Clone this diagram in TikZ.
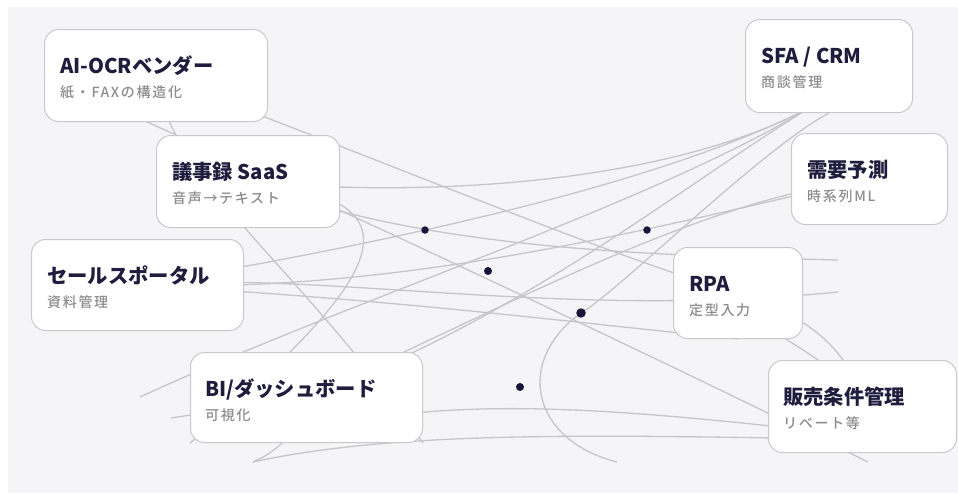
\documentclass[tikz,border=0pt]{standalone}
\usepackage{fontspec}
\newfontfamily\jpt{Noto Sans CJK JP Black}
\newfontfamily\jpsub{Noto Sans CJK JP Medium}[LetterSpace=12]
\usetikzlibrary{calc}
\pgfdeclarelayer{back}
\pgfdeclarelayer{bg}
\pgfsetlayers{back,bg,main}
\definecolor{paper}{HTML}{F5F5F7}
\definecolor{boxline}{HTML}{C9C9CC}
\definecolor{linec}{HTML}{C6C6C8}
\definecolor{titlec}{HTML}{1F1D3D}
\definecolor{subc}{HTML}{8C8C8C}
\definecolor{dotc}{HTML}{16163A}
\tikzset{
  box/.style={draw=boxline, fill=white, line width=1pt, rounded corners=14pt,
    anchor=north west, inner sep=0pt},
  ttl/.style={anchor=base west, inner sep=0pt, text=titlec, font=\jpt\fontsize{20.3}{24}\selectfont},
  sub/.style={anchor=base west, inner sep=0pt, text=subc, font=\jpsub\fontsize{14}{16}\selectfont},
  conn/.style={draw=linec, line width=1.3pt},
  dot/.style={circle, fill=dotc, inner sep=0pt, minimum size=#1},
  dot/.default=8pt
}
\begin{document}
\begin{tikzpicture}[x=1pt,y=-1pt]
\useasboundingbox (0,0) rectangle (958,493);
\begin{pgfonlayer}{back}
\fill[white] (0,0) rectangle (958,493);
\fill[paper] (8,7) rectangle (958,493);
\end{pgfonlayer}

% boxes
\node[box, minimum width=223pt, minimum height=92pt] (ai) at (44,29) {};
\node[ttl] (ait) at (60,73.5) {AI-OCRベンダー};
\node[sub] (ais) at (60,97) {紙・FAXの構造化};

\node[box, minimum width=183pt, minimum height=92pt] (gj) at (156,135) {};
\node[ttl] (gjt) at (172,179.5) {議事録 SaaS};
\node[sub] (gjs) at (172,203) {音声→テキスト};

\node[box, minimum width=212pt, minimum height=91pt] (sp) at (31,239) {};
\node[ttl] (spt) at (47,283.5) {セールスポータル};
\node[sub] (sps) at (47,307) {資料管理};

\node[box, minimum width=232pt, minimum height=90pt] (bi) at (190,352) {};
\node[ttl] (bit) at (205,396.5) {BI/ダッシュボード};
\node[sub] (bis) at (205,420) {可視化};

\node[box, minimum width=167pt, minimum height=93pt] (sfa) at (745,19) {};
\node[ttl] (sfat) at (761,63.5) {SFA / CRM};
\node[sub] (sfas) at (761,87) {商談管理};

\node[box, minimum width=156pt, minimum height=91pt] (jy) at (791,133) {};
\node[ttl] (jyt) at (807,177.5) {需要予測};
\node[sub] (jys) at (807,201) {時系列ML};

\node[box, minimum width=129pt, minimum height=91pt] (rpa) at (673,247) {};
\node[ttl] (rpat) at (689,291.5) {RPA};
\node[sub] (rpas) at (689,315) {定型入力};

\node[box, minimum width=188pt, minimum height=92pt] (hb) at (768,360) {};
\node[ttl] (hbt) at (783,404.5) {販売条件管理};
\node[sub] (hbs) at (783,428) {リベート等};

% dots
\node[dot=7.5pt] (d1) at (425,230) {};
\node[dot=7.5pt] (d2) at (647,230) {};
\node[dot=8pt] (d3) at (488,271) {};
\node[dot=9.5pt] (d4) at (581,313) {};
\node[dot=8pt] (d5) at (520,387) {};

% free ends and hidden anchor inside SFA
\coordinate (f1) at (140,397);
\coordinate (f2) at (253,462);
\coordinate (f3) at (171,418);
\coordinate (f4) at (617,462);
\coordinate (f5) at (838,260);
\coordinate (f6) at (838,292);
\coordinate (f9) at (868,462);
\coordinate (sfain) at ($(sfa.south)+(-18,-6)$);

\begin{pgfonlayer}{bg}
\draw[conn] (ai.center) .. controls (420,175) and (620,260) .. (rpa.center);
\draw[conn] (gj.center) .. controls (450,200) and (680,178) .. (sfain);
\draw[conn] (sp.center) .. controls (350,250) and (650,190) .. (sfain);
\draw[conn] (f1) .. controls (350,300) and (650,205) .. (sfain);
\draw[conn] (bi.center) .. controls (520,320) and (690,180) .. (sfain);
\draw[conn] (f4) .. controls (530,440) and (515,360) .. (d4.center) .. controls (620,290) and (760,150) .. (sfa.south);
\draw[conn] (jy.center) .. controls (700,215) and (420,295) .. (sp.center);
\draw[conn] (jy.center) .. controls (700,200) and (520,300) .. (bi.center);
\draw[conn] (ai.center) .. controls (170,180) and (290,255) .. (bi.south east);
\draw[conn] (gj.center) .. controls (435,200) and (380,280) .. (bi.south west);
\draw[conn] (ai.west) .. controls (300,190) and (600,330) .. (f9);
\draw[conn] (gj.center) .. controls (420,250) and (650,255) .. (f5);
\draw[conn] (sp.center) .. controls (320,270) and (560,320) .. (f6);
\draw[conn] (sp.center) .. controls (400,300) and (550,320) .. (rpa.south);
\draw[conn] (rpa.center) .. controls (790,310) and (850,340) .. (hb.center);
\draw[conn] (rpa.center) .. controls (770,345) and (830,350) .. (hb.center);
\draw[conn] ($(bi.center)+(40,25)$) .. controls (470,400) and (600,405) .. ($(hb.center)+(0,30)$);
\draw[conn] (f2) .. controls (400,430) and (600,435) .. ($(hb.center)+(0,33)$);
\draw[conn] (f2) .. controls (280,450) and (300,430) .. (bi.center);
\draw[conn] (f3) -- (bi.center);
\end{pgfonlayer}
\end{tikzpicture}
\end{document}
